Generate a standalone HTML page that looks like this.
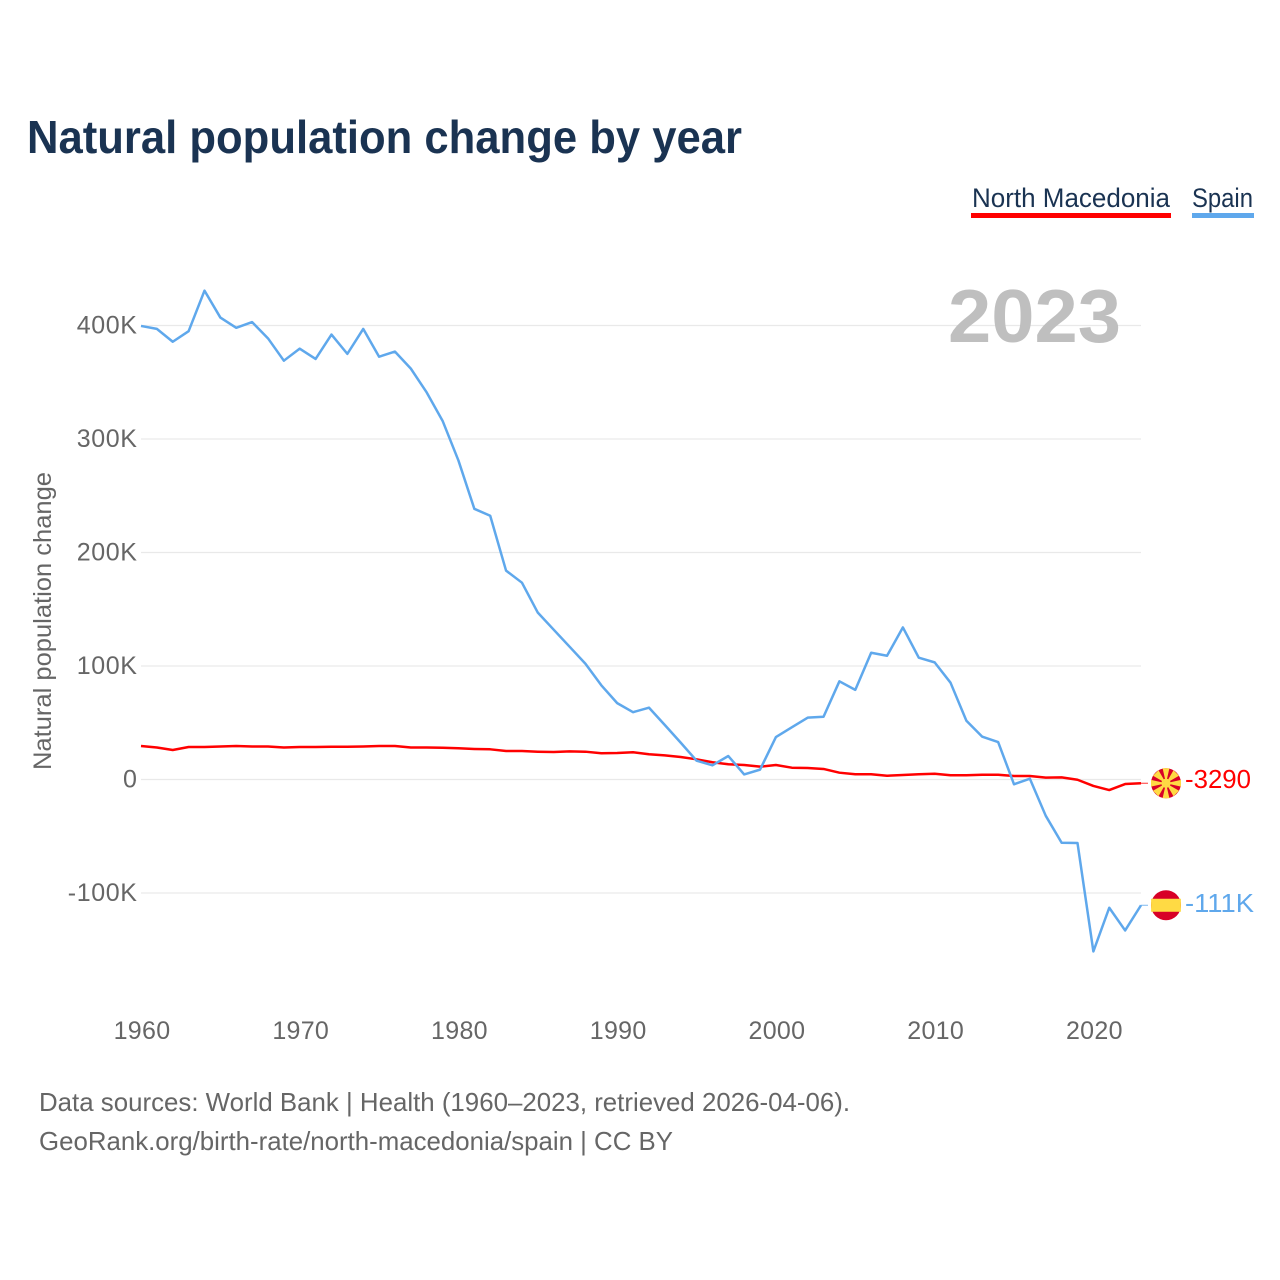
<!DOCTYPE html>
<html lang="en">
<head>
<meta charset="utf-8">
<title>Natural population change by year</title>
<style>
  html, body { margin: 0; padding: 0; background: #fff; }
  svg { display: block; font-family: "Liberation Sans", sans-serif; }
</style>
</head>
<body>
<svg id="chart" xmlns="http://www.w3.org/2000/svg" width="1280" height="1280" viewBox="0 0 1280 1280">
  <rect width="1280" height="1280" fill="#ffffff"/>
  <text x="27" y="153" font-size="46" font-weight="700" fill="#1a3352" textLength="715" lengthAdjust="spacingAndGlyphs">Natural population change by year</text>

  <g>
    <g style="cursor:pointer">
      <text x="972" y="207" font-size="27" fill="#1a3352" textLength="198" lengthAdjust="spacingAndGlyphs">North Macedonia</text>
      <rect x="971" y="213" width="200" height="5" fill="#ff0000"/>
    </g>
    <g style="cursor:pointer">
      <text x="1192" y="207" font-size="27" fill="#1a3352" textLength="61" lengthAdjust="spacingAndGlyphs">Spain</text>
      <rect x="1192" y="213" width="62" height="5" fill="#5fa8ec"/>
    </g>
  </g>

  <g id="grid"></g>
  <text x="1121" y="342" text-anchor="end" font-size="75" font-weight="700" fill="#bfbfbf" textLength="173" lengthAdjust="spacingAndGlyphs">2023</text>
  <g id="y-ticks"></g>
  <g id="x-ticks"></g>
  <text transform="translate(51 621) rotate(-90)" text-anchor="middle" font-size="25" fill="#666666" textLength="298" lengthAdjust="spacingAndGlyphs">Natural population change</text>

  <g id="series"></g>

  <g id="flag-mk">
    <circle r="15" fill="#d80027"/>
    <g fill="#ffda44">
      <polygon points="-3.4,-15 3.4,-15 0,0"/>
      <polygon points="-3.4,15 3.4,15 0,0"/>
      <polygon points="-15,-3.4 -15,3.4 0,0"/>
      <polygon points="15,-3.4 15,3.4 0,0"/>
      <polygon points="-13,-7.5 -7.5,-13 0,0"/>
      <polygon points="13,-7.5 7.5,-13 0,0"/>
      <polygon points="-13,7.5 -7.5,13 0,0"/>
      <polygon points="13,7.5 7.5,13 0,0"/>
      <circle r="4.6"/>
    </g>
  </g>
  <g id="flag-es">
    <circle r="15" fill="#d80027"/>
    <rect x="-14.9" y="-6.5" width="29.8" height="13" fill="#ffda44"/>
  </g>
  <g id="end-labels"></g>

  <g>
    <text x="39" y="1111" font-size="26" fill="#666666" textLength="811" lengthAdjust="spacingAndGlyphs">Data sources: World Bank | Health (1960–2023, retrieved 2026-04-06).</text>
    <text x="39" y="1150" font-size="26" fill="#666666" textLength="634" lengthAdjust="spacingAndGlyphs">GeoRank.org/birth-rate/north-macedonia/spain | CC BY</text>
  </g>
</svg>
<script>
const years = [1960,1961,1962,1963,1964,1965,1966,1967,1968,1969,
  1970,1971,1972,1973,1974,1975,1976,1977,1978,1979,
  1980,1981,1982,1983,1984,1985,1986,1987,1988,1989,
  1990,1991,1992,1993,1994,1995,1996,1997,1998,1999,
  2000,2001,2002,2003,2004,2005,2006,2007,2008,2009,
  2010,2011,2012,2013,2014,2015,2016,2017,2018,2019,
  2020,2021,2022,2023];
const spainValues = [399600,397000,385700,395000,430700,407000,398000,403000,388700,369000,
  379600,370500,392000,375000,397000,372500,377000,362000,341000,316000,
  281000,238500,232400,184000,173400,147000,132000,117000,102000,83000,
  67300,59300,63300,48000,32500,16600,12500,20700,4500,8700,
  37400,46000,54500,55300,86500,79000,111700,109000,134000,107300,
  103200,85300,51800,37700,33000,-4200,700,-32000,-55700,-56000,
  -151500,-113000,-133000,-110800];
const macedoniaValues = [29500,28200,26000,28600,28600,29100,29500,29100,29100,28200,
  28600,28600,28800,28800,29100,29500,29500,28200,28200,28000,
  27500,26900,26600,25100,25100,24500,24200,24800,24500,23100,
  23300,24000,22200,21300,19800,17800,15200,13400,12800,11300,
  12800,10400,10100,9300,6000,4600,4600,3300,4000,4600,
  5100,3700,3700,4200,4200,3100,3100,1600,1900,-200,
  -5700,-9300,-4000,-3290];
const yTickValues = [400000,300000,200000,100000,0,-100000];
const yTickLabels = ["400K","300K","200K","100K","0","-100K"];
const xTickValues = [1960,1970,1980,1990,2000,2010,2020];
const xTickLabels = ["1960","1970","1980","1990","2000","2010","2020"];
const macedoniaEndLabel = "-3290";
const spainEndLabel = "-111K";

const SVG_NS = "http://www.w3.org/2000/svg";
const RED = "#ff0000";
const BLUE = "#5fa8ec";
const GREY = "#666666";

function xScale(year) { return 141 + (year - 1960) * (1000 / 63); }
function yScale(value) { return 779.5 - value * 0.001135; }

function make(tag, parent, attrs) {
  const el = document.createElementNS(SVG_NS, tag);
  for (const key in attrs) el.setAttribute(key, attrs[key]);
  parent.appendChild(el);
  return el;
}

const gridGroup = document.getElementById("grid");
const yTickGroup = document.getElementById("y-ticks");
yTickValues.forEach(function (value, i) {
  const y = yScale(value);
  const line = make("line", gridGroup, { x1: 141, x2: 1141, y1: y, y2: y, stroke: "#e9e9e9", "stroke-width": 1.3 });
  
  
  const label = make("text", yTickGroup, { x: 137.5, y: y + 8, "text-anchor": "end", "font-size": 25, "letter-spacing": 0.6, fill: GREY });
  
  
  label.textContent = yTickLabels[i];
});

const xTickGroup = document.getElementById("x-ticks");
xTickValues.forEach(function (year, i) {
  const label = make("text", xTickGroup, { x: xScale(year) + 1, y: 1039, "text-anchor": "middle", "font-size": 25, "letter-spacing": 0.3, fill: GREY });
  
  
  label.textContent = xTickLabels[i];
});

function linePoints(values) {
  return values.map(function (value, i) {
    return xScale(years[i]).toFixed(2) + "," + yScale(value).toFixed(2);
  }).join(" ");
}

const seriesGroup = document.getElementById("series");
const macedoniaLine = make("polyline", seriesGroup, { points: linePoints(macedoniaValues), fill: "none", stroke: RED, "stroke-width": 2.5, "stroke-linejoin": "round" });


const spainLine = make("polyline", seriesGroup, { points: linePoints(spainValues), fill: "none", stroke: BLUE, "stroke-width": 2.5, "stroke-linejoin": "round" });



const lastYear = years[years.length - 1];
const macedoniaEndY = yScale(macedoniaValues[macedoniaValues.length - 1]);
const spainEndY = yScale(spainValues[spainValues.length - 1]);

const macedoniaConnector = make("line", seriesGroup, { x1: xScale(lastYear), x2: 1148, y1: macedoniaEndY, y2: macedoniaEndY, stroke: RED, "stroke-width": 1, opacity: 0.8 });


const spainConnector = make("line", seriesGroup, { x1: xScale(lastYear), x2: 1148, y1: spainEndY, y2: spainEndY, stroke: BLUE, "stroke-width": 1, opacity: 0.8 });



document.getElementById("flag-mk").setAttribute("transform", "translate(1166 " + macedoniaEndY + ")");
document.getElementById("flag-es").setAttribute("transform", "translate(1166 " + spainEndY + ")");

const endGroup = document.getElementById("end-labels");
const macedoniaLabel = make("text", endGroup, { x: 1185, y: macedoniaEndY + 5, "font-size": 26, fill: RED, textLength: 66, lengthAdjust: "spacingAndGlyphs" });


macedoniaLabel.textContent = macedoniaEndLabel;
const spainLabel = make("text", endGroup, { x: 1185, y: spainEndY + 6.7, "font-size": 26, fill: BLUE, textLength: 69, lengthAdjust: "spacingAndGlyphs" });


spainLabel.textContent = spainEndLabel;
</script>
</body>
</html>
